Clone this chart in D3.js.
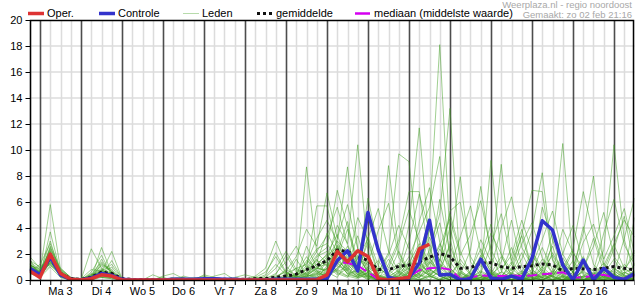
<!DOCTYPE html>
<html lang="nl">
<head>
  <meta charset="UTF-8">
  <title>Neerslag pluim</title>
  <script src="https://cdn.jsdelivr.net/npm/d3@7"></script>
  <style>
    body { margin: 0; padding: 0; background: #fff; overflow: hidden; }
    svg { display: block; font-family: 'Liberation Sans', Arial, sans-serif; }
    .lbl { font-size: 11px; fill: #000; }
    .src { font-size: 9.5px; fill: #a8a8a8; }
  </style>
</head>
<body>
<div id="chart"></div>
<script>
  // 6-uurlijkse waarden, eerste punt zo 2 feb 18:00
  const startTime = new Date(2025, 1, 2, 18);
  const endTime = new Date(2025, 1, 17, 12);
  const dayLabels = ["Ma 3", "Di 4", "Wo 5", "Do 6", "Vr 7", "Za 8", "Zo 9", "Ma 10", "Di 11", "Wo 12", "Do 13", "Vr 14", "Za 15", "Zo 16"];
  const yTicks = [0, 2, 4, 6, 8, 10, 12, 14, 16, 18, 20];

  const oper = [0.7, 0.2, 2.0, 0.5, 0.05, 0, 0.1, 0.4, 0.3, 0,
    0, 0, 0, 0, 0, 0, 0, 0, 0, 0,
    0, 0, 0, 0, 0, 0, 0, 0, 0.02,
    0.4, 2.2, 1.4, 2.25, 1.8, 0.1, 0, 0.1, 0.2, 2.4, 2.75];

  const controle = [0.9, 0.4, 1.8, 0.4, 0.05, 0, 0.15, 0.5, 0.35, 0.05,
    0, 0, 0, 0, 0.05, 0.05, 0.05, 0.1, 0.1, 0.05,
    0.05, 0, 0, 0, 0.05, 0.05, 0.05, 0.05, 0.05,
    0.1, 1.5, 2.25, 0.7, 5.2, 2.3, 0.2, 0.05, 0.15, 1.3,
    4.6, 0.38, 0.45, 0, 0.1, 1.6, 0.15, 0.05, 0.3, 0.05,
    1.67, 4.56, 3.85, 1.15, 0, 1.54, 0, 0.9, 0.2, 0.05, 0.5];

  const gemiddelde = [0.8, 0.45, 1.7, 0.5, 0.1, 0.05, 0.2, 0.6, 0.5, 0.1,
    0.05, 0.03, 0.03, 0.03, 0.05, 0.05, 0.03, 0.03, 0.05, 0.05,
    0.05, 0.05, 0.1, 0.12, 0.2, 0.3, 0.45, 0.8, 1.1,
    1.5, 2.3, 2.2, 1.8, 1.5, 0.8, 0.8, 1.05, 1.15, 1.4,
    1.75, 2.05, 1.8, 0.9, 0.95, 1.28, 1.33, 1.03, 0.9, 1.03,
    1.1, 1.23, 1.15, 0.7, 0.9, 0.85, 0.8, 0.9, 1.03, 0.9, 0.77];

  const mediaan = [0.75, 0.35, 1.7, 0.45, 0.05, 0, 0.15, 0.5, 0.4, 0.05,
    0, 0, 0, 0, 0, 0, 0, 0, 0, 0,
    0, 0, 0, 0, 0, 0, 0, 0, 0.05,
    0.3, 1.4, 1.3, 1.1, 0.6, 0.05, 0, 0.1, 0.25, 0.75,
    0.9, 0.95, 0.8, 0.1, 0.2, 0.35, 0.3, 0.3, 0.35, 0.3,
    0.35, 0.45, 0.5, 0.6, 0.2, 0.2, 0.35, 0.4, 0.2, 0.1, 0.35];

  // ensemble leden
  const leden = [
    [0.9,0.4,2.0,0.5,0.1,0,0.1,0.5,0.4,0, 0,0,0,0,0,0,0,0,0,0,0, 0,0,0,0,0,0.2,0.5,1.2, 2.0,3.5,1.2,0.4,0.8,0.1,0,0.5,1.3,2.8,0.9,0.3,0,0,0.2,1.1,0.6,0,0,0.4,1.9,0.7,0.2,0,0,0.3,0.8,0.2,0,0,0.1],
    [1.2,0.6,5.8,0.8,0.1,0,0.3,0.8,0.3,0, 0,0,0.1,0,0,0,0,0,0.1,0,0, 0,0,0,0.1,0.3,0.2,0.8,1.5, 1.1,2.4,0.6,0.2,1.5,0.3,0.1,0.6,0.2,1.9,4.8,18.1,3.2,0.1,0,0.2,0.5,1.8,0.4,0,0.1,0.9,2.6,0.3,0,0,0.4,1.3,0.5,0,0],
    [0.7,0.3,3.7,0.6,0.2,0,0.2,0.4,0.6,0.1, 0,0.1,0,0.3,0.5,0.1,0,0,0,0,0, 0,0,0,0,0,0,0.2,0.6, 1.5,4.2,2.8,10.4,2.1,0.2,0,0,0.3,0.8,0.4,0,0.2,1.6,0.5,0,0,0.3,1.2,3.4,0.8,0.2,0,0,0.6,1.8,0.3,0,0,0.5,1.1],
    [1.8,0.9,1.5,0.4,0.1,0,2.4,0.9,0.2,0, 0,0,0,0,0,0,0,0.4,0.2,0,0, 0,0,0.3,1.2,0.4,0.1,0.3,1.0, 0.6,1.8,3.9,1.2,0.4,0,0.5,2.2,0.7,0.1,0,0.8,4.1,0.6,0,0,0.2,0,0.5,2.1,0.4,0,0.3,1.4,0.2,0,0,0.8,2.7,0.9,0.3],
    [0.6,0.2,1.4,0.3,0,0,0.1,2.5,0.5,0, 0,0,0.4,0.1,0,0,0,0,0,0,0, 0,0,0,0,0,0.5,1.8,0.7, 0.2,0.9,1.6,0.4,3.3,1.1,0.2,0,0,0.6,2.3,5.1,13.2,0.8,0,0.1,0.4,0,0,0,0.2,1.6,0.5,0,0.1,0.7,0.2,0,0,0.3,0.6],
    [0.8,0.5,3.0,0.5,0.1,0.1,0.4,0.6,2.2,0.1, 0,0,0,0,0,0,0,0,0,0,0, 0,0,0,0.2,0.8,0.4,8.7,2.1, 1.3,0.5,0.2,1.8,0.6,0,0,0.3,1.5,0.4,0,0,0.6,0.2,0,1.8,4.3,0.7,0,0,0.4,0.2,0,0.6,2.2,0.5,0,0,0.9,0.3,0],
    [1.0,0.7,1.2,0.4,0,0,0,0.3,0.2,0, 0,0,0,0,0.1,0.2,0,0,0,0,0, 0,0,0,0,0,0,0.1,0.4, 0.5,2.7,1.4,0.8,0.2,0.4,1.6,0.5,0.1,0,0.3,1.2,0.8,0.1,0,0.5,9.2,1.9,0.3,0,0,0.6,0.3,0,0,1.2,0.4,0.1,0.4,0,0.2],
    [0.5,0.3,2.5,0.9,0.2,0,0.2,1.6,0.4,0, 0,0,0,0,0,0,0.1,0.3,0.1,0,0, 0,0.3,0.9,3.0,1.1,0.2,0.6,1.4, 3.6,2.1,4.5,0.9,0.3,0,0.2,0.8,4.2,11.7,2.5,0.6,0,0.1,0.4,0.2,0,0.3,0.9,0.2,0,0,0.5,1.7,0.6,0,0,0.3,0.1,0,0.6],
    [1.4,0.8,1.8,0.2,0,0,0.1,0.7,1.2,0.1, 0,0,0,0,0,0,0,0,0,0,0, 0,0,0,0,0,0,0,0.3, 0.9,3.1,8.7,2.4,0.7,0.1,0,0.2,0.6,0.3,0.9,2.8,0.5,0,0,0,0.3,0.2,1.4,0.5,0,0.3,2.1,0.7,0,0,0.2,0.6,0.1,0.8,1.9],
    [0.7,0.4,1.1,0.6,0.1,0,0.5,0.2,0.1,0, 0,0,0,0,0,0,0,0,0,0,0.2, 0.4,0.2,0.6,1.8,0.5,0.9,1.2,2.4, 2.8,1.6,0.7,0.3,1.9,0.5,0.8,0.1,0,0.4,1.7,0.6,0.2,0,0.7,2.4,0.5,0,0,0.3,0.8,0.1,2.9,10.5,1.3,0,0,0.2,0.9,0.4,0],
    [0.9,0.2,2.2,0.4,0,0,0.1,1.2,0.8,0, 0,0,0,0,0,0,0,0,0,0,0, 0,0,0,0,0,0.3,0.1,0.5, 0.4,1.2,2.6,0.9,0.2,0.6,2.1,9.7,9.1,1.6,0.3,0,0,0.5,0.2,0,0.4,1.1,0.3,0,0,0.2,0.7,0.2,0,0.8,3.2,0.6,0,0,0.3],
    [1.1,0.9,1.6,0.3,0.1,0,0.3,0.9,0.5,0, 0.1,0,0,0,0,0,0,0,0,0,0, 0,0,0,0,0.2,1.6,0.4,0.8, 1.8,0.6,1.1,3.4,0.8,0,0,0.4,0.9,2.6,0.5,0.1,0.3,0,0.6,3.1,1.4,8.9,1.2,0.2,0,0.5,0.3,0,0.4,0.2,0,0.5,1.6,0.3,0],
    [0.6,1.2,2.8,0.7,0.1,0,0.2,0.4,0.3,0, 0,0,0,0,0,0.3,0.1,0,0,0,0, 0,0,0,0,0,0,0.3,0.9, 0.7,1.9,0.4,0.2,0.6,1.5,0.3,0,0.2,0.7,3.9,1.2,0.4,0,0,0.2,0.8,0.3,0,0.6,2.2,0.5,0,0,0.3,1.1,0.4,2.3,10.4,3.1,0.5],
    [1.3,0.5,1.3,0.5,0,0,0.6,1.9,0.4,0.1, 0,0,0,0,0,0,0,0,0.3,0.5,0, 0,0.2,0.1,0,0.5,0.3,1.1,0.6, 0.3,2.3,1.7,0.5,0,0.9,8.8,2.1,0.4,0.2,0.8,0.3,0,0,0.3,0.1,0,0.6,2.5,0.6,0.1,0,0.4,0.9,0.2,0,0.5,0.3,0,0.2,0.7],
    [0.8,0.3,1.9,0.3,0.1,0,0.1,0.3,0.2,0, 0,0,0,0,0,0,0,0,0,0,0, 0,0,0,0,0,0,0,0.1, 1.1,0.4,0.9,2.2,0.5,0.1,0,0,0.3,1.2,0.6,2.4,0.9,0.2,0,0.4,0.1,0,0.2,0.5,1.3,0.4,0,0.2,0.9,3.6,8.0,1.2,0.3,0,0.1],
    [1.0,0.6,2.4,0.8,0.2,0,0.2,0.5,1.0,0, 0,0,0,0,0,0,0,0,0,0,0, 0,0,0.1,0.4,1.9,0.6,0.2,1.8, 2.2,1.3,0.5,0.7,2.9,0.4,0,0.6,1.8,3.7,5.6,9.5,1.4,0.3,0,0,0.5,0.2,0,0.3,0.6,0.1,0,0.3,1.5,0.4,0,0,0.4,1.2,0.5],
    [0.5,0.2,1.0,0.2,0,0,0,0.2,0.1,0, 0,0,0,0,0.2,0,0,0,0,0,0, 0,0,0,0,0,0,0.5,0.9, 0.8,2.6,1.0,0.2,0.3,0,0.4,1.1,0.2,0,0.5,0.9,0.3,0,0.2,0.6,0.2,0,0.4,1.6,3.8,8.25,1.6,0.4,0,0,0.3,0.1,0,0.6,0.2],
    [1.5,1.0,1.7,0.4,0.1,0,0.4,1.4,0.6,0, 0,0,0,0,0,0,0,0,0,0.1,0.1, 0,0,0.2,0.9,2.2,0.8,0.3,0.4, 1.4,0.7,2.0,0.6,0.1,0,0.2,0.3,1.1,0.4,0.2,0.6,2.8,7.95,1.4,0.3,0,0,0.5,0.2,0,0.4,0.1,0,0.2,0.6,0.2,0,0.3,0.9,0.4],
    [0.9,0.4,2.1,0.6,0,0,0.1,0.6,0.3,0, 0,0,0,0,0,0,0,0,0,0,0, 0,0,0,0,0,0.1,0.6,1.6, 0.3,1.5,0.8,1.9,0.6,0.2,0,0,0.1,0.5,1.4,0.7,0.2,0.4,2.3,7.2,1.8,0.3,0,0,0.5,0.2,0.6,0.1,0,0.3,0.1,0.4,0.2,0,0.3],
    [0.7,0.5,1.5,0.4,0.1,0,0.3,1.1,0.7,0, 0,0,0,0,0,0,0,0,0,0,0, 0,0,0,0.2,0.1,0,0.4,0.2, 0.6,0.2,1.4,0.9,0.3,0.1,1.2,3.1,6.8,6.8,1.7,0.3,0,0,0.2,0.7,0.3,0,0.1,0.5,0.2,0,0.3,0.8,0.2,0,0.4,1.0,0.3,0,0],
    [1.2,0.3,2.6,0.5,0.1,0,0.1,0.4,0.2,0, 0,0,0,0,0,0,0.2,0.1,0,0,0, 0,0,0,0,0.1,0.3,0.9,5.7, 5.7,2.4,0.8,0.3,0.5,0.2,0,0.1,0.4,0.9,0.3,0,0.5,1.3,0.4,0,0,0.2,0.6,0.1,0,0.7,1.9,0.5,0,0,0.1,0.3,0.7,0.2,0],
    [0.6,0.6,1.3,0.9,0.2,0.1,0.8,0.7,0.4,0, 0,0,0,0,0,0,0,0,0,0,0, 0,0,0,0,0,0,0,0, 0.2,0.8,0.3,0.1,0.6,0.9,0.4,0,0,0.2,0.7,1.6,0.5,0,0.1,0.4,0.2,0,0.8,3.5,6.9,6.8,1.5,0.2,0,0.3,0.1,0,0.2,0.6,0.3],
    [1.0,0.4,1.8,0.3,0,0,0.2,0.3,1.5,0.1, 0,0,0,0,0,0,0,0,0,0,0, 0,0.1,0.4,2.1,0.6,0.2,1.5,0.9, 1.6,3.0,2.2,0.6,0.2,0,0.3,0.7,0.2,0.5,2.0,4.4,0.9,0.2,0,0,0.6,0.3,0,0.2,0.5,0,0.4,1.2,0.6,0,0,0.5,2.4,4.9,1.1],
    [0.8,0.7,2.3,0.5,0.1,0,0.1,0.8,0.3,0, 0,0,0,0,0,0,0,0,0,0,0, 0,0,0,0,0,0,0.2,0.7, 0.5,1.1,0.7,1.6,1.2,0.3,0,0.2,0.5,1.4,0.4,0.8,2.6,0.7,0.2,0,0.3,0.6,0.2,0,0.3,1.0,0.3,0,0,0.2,0.6,0.2,0,0.4,4.8],
    [1.6,0.2,1.4,0.4,0,0,0.3,0.5,0.2,0, 0,0,0,0.2,0,0,0,0,0,0,0, 0,0,0,0,0.3,0.9,0.4,1.2, 1.9,2.5,0.9,0.4,0.1,0.2,0.6,1.3,0.4,0,0.3,1.1,0.3,0,0.4,1.9,0.7,0.2,0,0,0.6,2.5,0.8,0.3,0,0,0.2,0.6,0.2,0.1,0],
    [0.9,0.5,1.6,0.6,0.1,0,0.2,1.3,0.6,0, 0,0,0,0,0,0,0,0,0,0,0, 0,0,0,0.1,0,0.2,2.6,1.0, 1.2,0.6,0.3,0.9,0.4,0,0,0.3,0.7,0.2,1.3,6.2,2.1,0.4,0,0.2,0.5,0.1,0,0,0.3,0.8,0.2,0,0.6,4.1,1.2,0.3,0,0,0.2],
    [0.7,0.3,2.0,0.7,0.1,0,0.1,0.6,0.4,0, 0,0,0,0,0,0,0,0,0,0,0, 0,0,0,0,0,0,0.1,0.2, 0.4,0.9,1.8,0.7,0.3,0.1,0,0,0.4,1.0,0.3,0,0.2,0.6,0.1,0,0.2,1.4,4.6,1.0,0.2,0,0,0.3,0.1,0,0.3,0.9,0.4,0,0.1],
    [1.1,0.8,1.2,0.3,0,0,0.4,0.2,0.2,0, 0,0,0,0,0,0,0,0,0.2,0,0, 0,0,0,0.3,0.6,0.2,0.3,0.5, 0.9,1.4,0.5,0.2,1.0,0.4,0.1,0,0.6,2.1,0.8,0.3,0,0,0.5,0.3,0,0,0.2,0.7,0.2,0,0.5,2.0,0.6,0.1,0,0.2,0.5,3.2,6.3],
    [0.8,0.5,1.7,0.5,0.1,0,0.2,0.6,0.5,0, 0,0,0,0,0,0,0,0,0,0,0, 0,0,0,0,0.2,0.5,1.3,3.2, 4.6,2.9,1.3,4.8,3.1,0.6,1.9,4.2,2.4,0.8,3.3,1.5,5.1,2.2,0.4,1.3,3.6,2.0,0.7,2.8,4.4,1.7,0.6,3.9,2.1,0.9,2.6,5.2,1.8,0.7,2.3],
    [1.0,0.6,2.2,0.6,0.1,0,0.3,0.7,0.4,0, 0,0,0,0,0,0,0,0,0,0,0, 0,0,0.1,0.5,1.4,2.6,0.9,2.2, 3.4,5.6,2.7,1.1,6.3,2.5,0.9,2.8,5.4,3.0,1.2,2.6,4.7,1.9,3.5,6.1,2.3,0.8,1.9,4.6,2.2,0.9,3.7,1.4,0.6,2.9,4.3,1.6,3.4,5.5,2.0],
    [0.6,0.4,1.9,0.4,0,0,0.2,0.5,0.3,0, 0,0,0,0,0,0,0,0,0,0,0, 0,0,0,0.2,0.7,1.8,3.9,2.6, 6.7,3.2,5.8,2.4,1.3,3.8,5.9,1.7,0.8,4.5,7.1,2.9,1.0,3.3,5.7,2.1,0.9,4.0,6.4,2.5,1.1,3.1,5.3,2.0,4.2,1.3,0.7,3.6,6.2,2.7,1.2],
    [1.2,0.7,1.5,0.3,0.1,0,0.1,0.4,0.6,0, 0,0,0,0,0,0,0,0,0,0,0, 0,0,0,0,0.1,0.4,0.8,1.9, 2.5,6.9,4.1,1.6,3.2,5.5,2.2,0.6,2.9,6.6,3.8,1.4,5.3,6.0,1.8,0.5,2.7,5.1,1.5,3.9,0.8,5.6,3.1,0.9,2.4,6.8,3.5,1.1,2.8,4.6,3.3]
  ];

  const width = 635, height = 300;
  const mLeft = 29.75, mRight = 634.5, mTop = 20, mBottom = 280;

  const svg = d3.select("#chart").append("svg")
    .attr("width", width)
    .attr("height", height);

  const x = d3.scaleTime().domain([startTime, endTime]).range([mLeft, mRight]);
  const y = d3.scaleLinear().domain([0, 20]).range([mBottom, mTop]);
  const timeAt = i => d3.timeHour.offset(startTime, 6 * i);

  // raster
  const sixHours = d3.timeHour.every(6).range(startTime, d3.timeHour.offset(endTime, 1));
  svg.append("g").selectAll("line")
    .data(yTicks.slice(1, -1))
    .enter().append("line")
    .attr("x1", mLeft).attr("x2", mRight)
    .attr("y1", d => y(d)).attr("y2", d => y(d))
    .attr("stroke", "#dcdcdc").attr("stroke-width", 1.5);

  svg.append("g").selectAll("line")
    .data(sixHours.filter(d => d.getHours() !== 0))
    .enter().append("line")
    .attr("x1", d => Math.round(x(d)) + 0.5).attr("x2", d => Math.round(x(d)) + 0.5)
    .attr("y1", mTop).attr("y2", mBottom)
    .attr("stroke", "#dcdcdc").attr("stroke-width", 1.5);

  svg.append("g").selectAll("line")
    .data(sixHours.filter(d => d.getHours() === 0))
    .enter().append("line")
    .attr("x1", d => Math.round(x(d)) + 0.5).attr("x2", d => Math.round(x(d)) + 0.5)
    .attr("y1", mTop).attr("y2", mBottom)
    .attr("stroke", "#4d4d4d").attr("stroke-width", 1.6);

  // lijnen
  svg.append("clipPath").attr("id", "clip")
    .append("rect").attr("x", mLeft).attr("y", mTop).attr("width", mRight - mLeft).attr("height", mBottom - mTop);
  const plot = svg.append("g").attr("clip-path", "url(#clip)");

  const line = d3.line()
    .x((d, i) => x(timeAt(i)))
    .y(d => y(d));

  plot.selectAll(".lid")
    .data(leden)
    .enter().append("path")
    .attr("class", "lid")
    .attr("d", line)
    .attr("fill", "none")
    .attr("stroke", "rgb(65,160,35)")
    .attr("stroke-opacity", 0.5)
    .attr("stroke-width", 1);

  plot.append("path").attr("d", line(mediaan))
    .attr("fill", "none").attr("stroke", "#d400f0")
    .attr("stroke-width", 2).attr("stroke-dasharray", "10,5");

  plot.append("path").attr("d", line(gemiddelde))
    .attr("fill", "none").attr("stroke", "#111")
    .attr("stroke-width", 3).attr("stroke-dasharray", "3,3");

  plot.append("path").attr("d", line(controle))
    .attr("fill", "none").attr("stroke", "#3333cc")
    .attr("stroke-width", 3.5).attr("stroke-linejoin", "round");

  plot.append("path").attr("d", line(oper))
    .attr("fill", "none").attr("stroke", "#dd3333")
    .attr("stroke-width", 3.5).attr("stroke-linejoin", "round");

  // assen
  const yAxis = svg.append("g")
    .attr("transform", `translate(${Math.round(mLeft) + 0.5},0)`)
    .call(d3.axisLeft(y).tickValues(yTicks).tickSize(5).tickPadding(3));
  yAxis.select(".domain").remove();
  yAxis.selectAll("text").attr("class", "lbl").attr("font-family", null).attr("font-size", null);

  const xAxis = svg.append("g")
    .attr("transform", `translate(0,${mBottom})`)
    .call(d3.axisBottom(x).tickValues(sixHours).tickSize(5).tickFormat(""));
  xAxis.select(".domain").remove();

  svg.append("g").selectAll("text")
    .data(dayLabels)
    .enter().append("text")
    .attr("class", "lbl")
    .attr("x", (d, i) => x(d3.timeHour.offset(new Date(2025, 1, 3 + i), 12)))
    .attr("y", 295)
    .attr("text-anchor", "middle")
    .text(d => d);

  // kader
  svg.append("rect")
    .attr("x", Math.round(mLeft) + 0.5).attr("y", mTop + 0.5)
    .attr("width", 633.5 - Math.round(mLeft) - 0.5).attr("height", mBottom - mTop)
    .attr("fill", "none").attr("stroke", "#000").attr("stroke-width", 1.5);

  // legenda
  const legend = [
    { name: "Oper.", x: 28, color: "#dd3333", w: 3.5, dash: null, op: 1 },
    { name: "Controle", x: 99, color: "#3333cc", w: 3.5, dash: null, op: 1 },
    { name: "Leden", x: 183, color: "rgb(65,160,35)", w: 1, dash: null, op: 0.38 },
    { name: "gemiddelde", x: 257, color: "#111", w: 3, dash: "3,3", op: 1 },
    { name: "mediaan (middelste waarde)", x: 355, color: "#d400f0", w: 2.5, dash: "15,2", op: 1 }
  ];
  const lg = svg.append("g").selectAll("g").data(legend).enter().append("g");
  lg.append("line")
    .attr("x1", d => d.x).attr("x2", d => d.x + 16)
    .attr("y1", 13.5).attr("y2", 13.5)
    .attr("stroke", d => d.color).attr("stroke-width", d => d.w)
    .attr("stroke-opacity", d => d.op)
    .attr("stroke-dasharray", d => d.dash);
  lg.append("text")
    .attr("class", "lbl")
    .attr("x", d => d.x + 19).attr("y", 17)
    .text(d => d.name);

  svg.append("text").attr("class", "src")
    .attr("x", 632).attr("y", 8).attr("text-anchor", "end")
    .text("Weerplaza.nl - regio noordoost");
  svg.append("text").attr("class", "src")
    .attr("x", 632).attr("y", 18).attr("text-anchor", "end")
    .text("Gemaakt: zo 02 feb 21:16");
</script>
</body>
</html>
